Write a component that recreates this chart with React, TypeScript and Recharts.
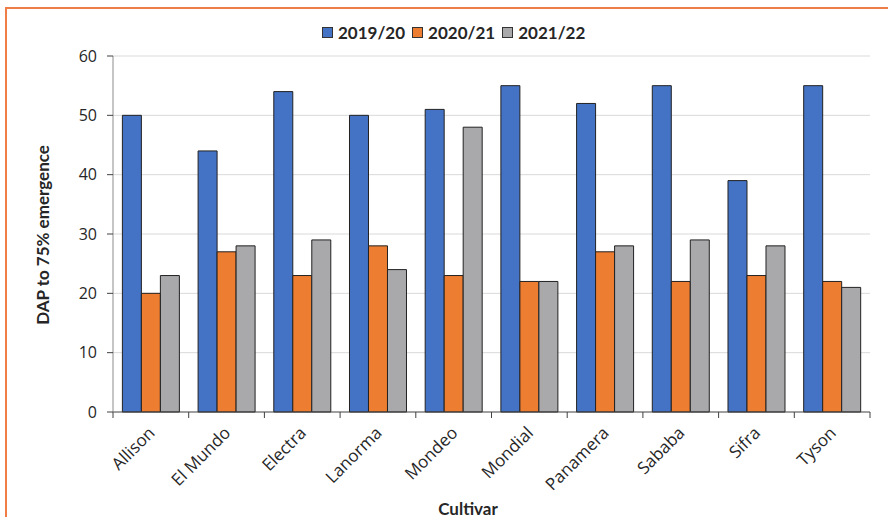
import React from 'react'
import { BarChart, Bar, XAxis, YAxis, CartesianGrid } from 'recharts'

const cultivars = ['Allison', 'El Mundo', 'Electra', 'Lanorma', 'Mondeo', 'Mondial', 'Panamera', 'Sababa', 'Sifra', 'Tyson']
const s2019 = [50, 44, 54, 50, 51, 55, 52, 55, 39, 55]
const s2020 = [20, 27, 23, 28, 23, 22, 27, 22, 23, 22]
const s2021 = [23, 28, 29, 24, 48, 22, 28, 29, 28, 21]
const yTicks = [0, 10, 20, 30, 40, 50, 60]

const data = cultivars.map((c, i) => ({ name: c, a: s2019[i], b: s2020[i], c: s2021[i] }))

const W = 888
const H = 517
const M = { top: 56, right: 18, left: 0, bottom: 0 }
const Y_W = 113
const X_H = 105
const bw = (W - Y_W - M.right) / cultivars.length

const tickFont = '"Open Sans", "DejaVu Sans", sans-serif'
const boldFont = 'Lato, "Open Sans", sans-serif'

function XTick(props: any) {
  const { x, y, payload, index } = props
  const axisY = y - 8
  const left = x - bw / 2
  return (
    <g>
      <line x1={left} y1={axisY} x2={left} y2={axisY + 6} stroke="#404040" />
      {index === cultivars.length - 1 ? (
        <line x1={x + bw / 2} y1={axisY} x2={x + bw / 2} y2={axisY + 6} stroke="#404040" />
      ) : null}
      <text
        x={x + 5}
        y={axisY + 22}
        textAnchor="end"
        transform={`rotate(-45 ${x + 5} ${axisY + 22})`}
        fontFamily={tickFont}
        fontSize={17}
        fill="#262626"
      >
        {payload.value}
      </text>
    </g>
  )
}

function LegendBox() {
  const items = [
    { label: '2019/20', color: '#4472C4' },
    { label: '2020/21', color: '#ED7D31' },
    { label: '2021/22', color: '#A9A9AC' },
  ]
  return (
    <div style={{ display: 'flex', gap: 7, fontFamily: boldFont, fontWeight: 700, fontSize: 17, color: '#262626' }}>
      {items.map(it => (
        <div key={it.label} style={{ display: 'flex', alignItems: 'center', gap: 5 }}>
          <span style={{ width: 9, height: 9, background: it.color, border: '1px solid #333', display: 'inline-block' }} />
          <span>{it.label}</span>
        </div>
      ))}
    </div>
  )
}

export default function App() {
  return (
    <div style={{ position: 'absolute', left: 0, top: 0, width: W, height: H, overflow: 'hidden', background: '#fff' }}>
      <div style={{ position: 'absolute', left: 5, top: 7, width: W + 20, height: H + 20, border: '2px solid #F07D45', boxSizing: 'border-box' }} />
      <div style={{ position: 'absolute', left: 0, top: 0 }}>
        <BarChart width={W} height={H} data={data} margin={M} barGap={0} barCategoryGap="12.4%">
          <CartesianGrid vertical={false} stroke="#d9d9d9" horizontalValues={[10, 20, 30, 40, 50, 60]} />
          <XAxis
            dataKey="name"
            height={X_H}
            interval={0}
            tickLine={false}
            tick={<XTick />}
            stroke="#404040"
          />
          <YAxis
            width={Y_W}
            domain={[0, 60]}
            ticks={yTicks}
            interval={0}
            tickSize={6}
            tickMargin={10}
            stroke="#8c8c8c"
            tick={{ fontFamily: tickFont, fontSize: 16, fill: '#262626' }}
            tickLine={{ stroke: '#404040' }}
          />
          <Bar dataKey="a" name="2019/20" fill="#4472C4" stroke="#222" strokeWidth={1} isAnimationActive={false} />
          <Bar dataKey="b" name="2020/21" fill="#ED7D31" stroke="#222" strokeWidth={1} isAnimationActive={false} />
          <Bar dataKey="c" name="2021/22" fill="#A9A9AC" stroke="#222" strokeWidth={1} isAnimationActive={false} />
        </BarChart>
      </div>
      <div style={{ position: 'absolute', left: 322, top: 22 }}>
        <LegendBox />
      </div>
      <div style={{ position: 'absolute', left: 42, top: 235, transform: 'translate(-50%, -50%) rotate(-90deg)', whiteSpace: 'nowrap', fontFamily: boldFont, fontWeight: 700, fontSize: 17, color: '#262626' }}>
        DAP to 75% emergence
      </div>
      <div style={{ position: 'absolute', left: 468, top: 508, transform: 'translate(-50%, -50%)', whiteSpace: 'nowrap', fontFamily: boldFont, fontWeight: 700, fontSize: 17, color: '#262626' }}>
        Cultivar
      </div>
    </div>
  )
}
